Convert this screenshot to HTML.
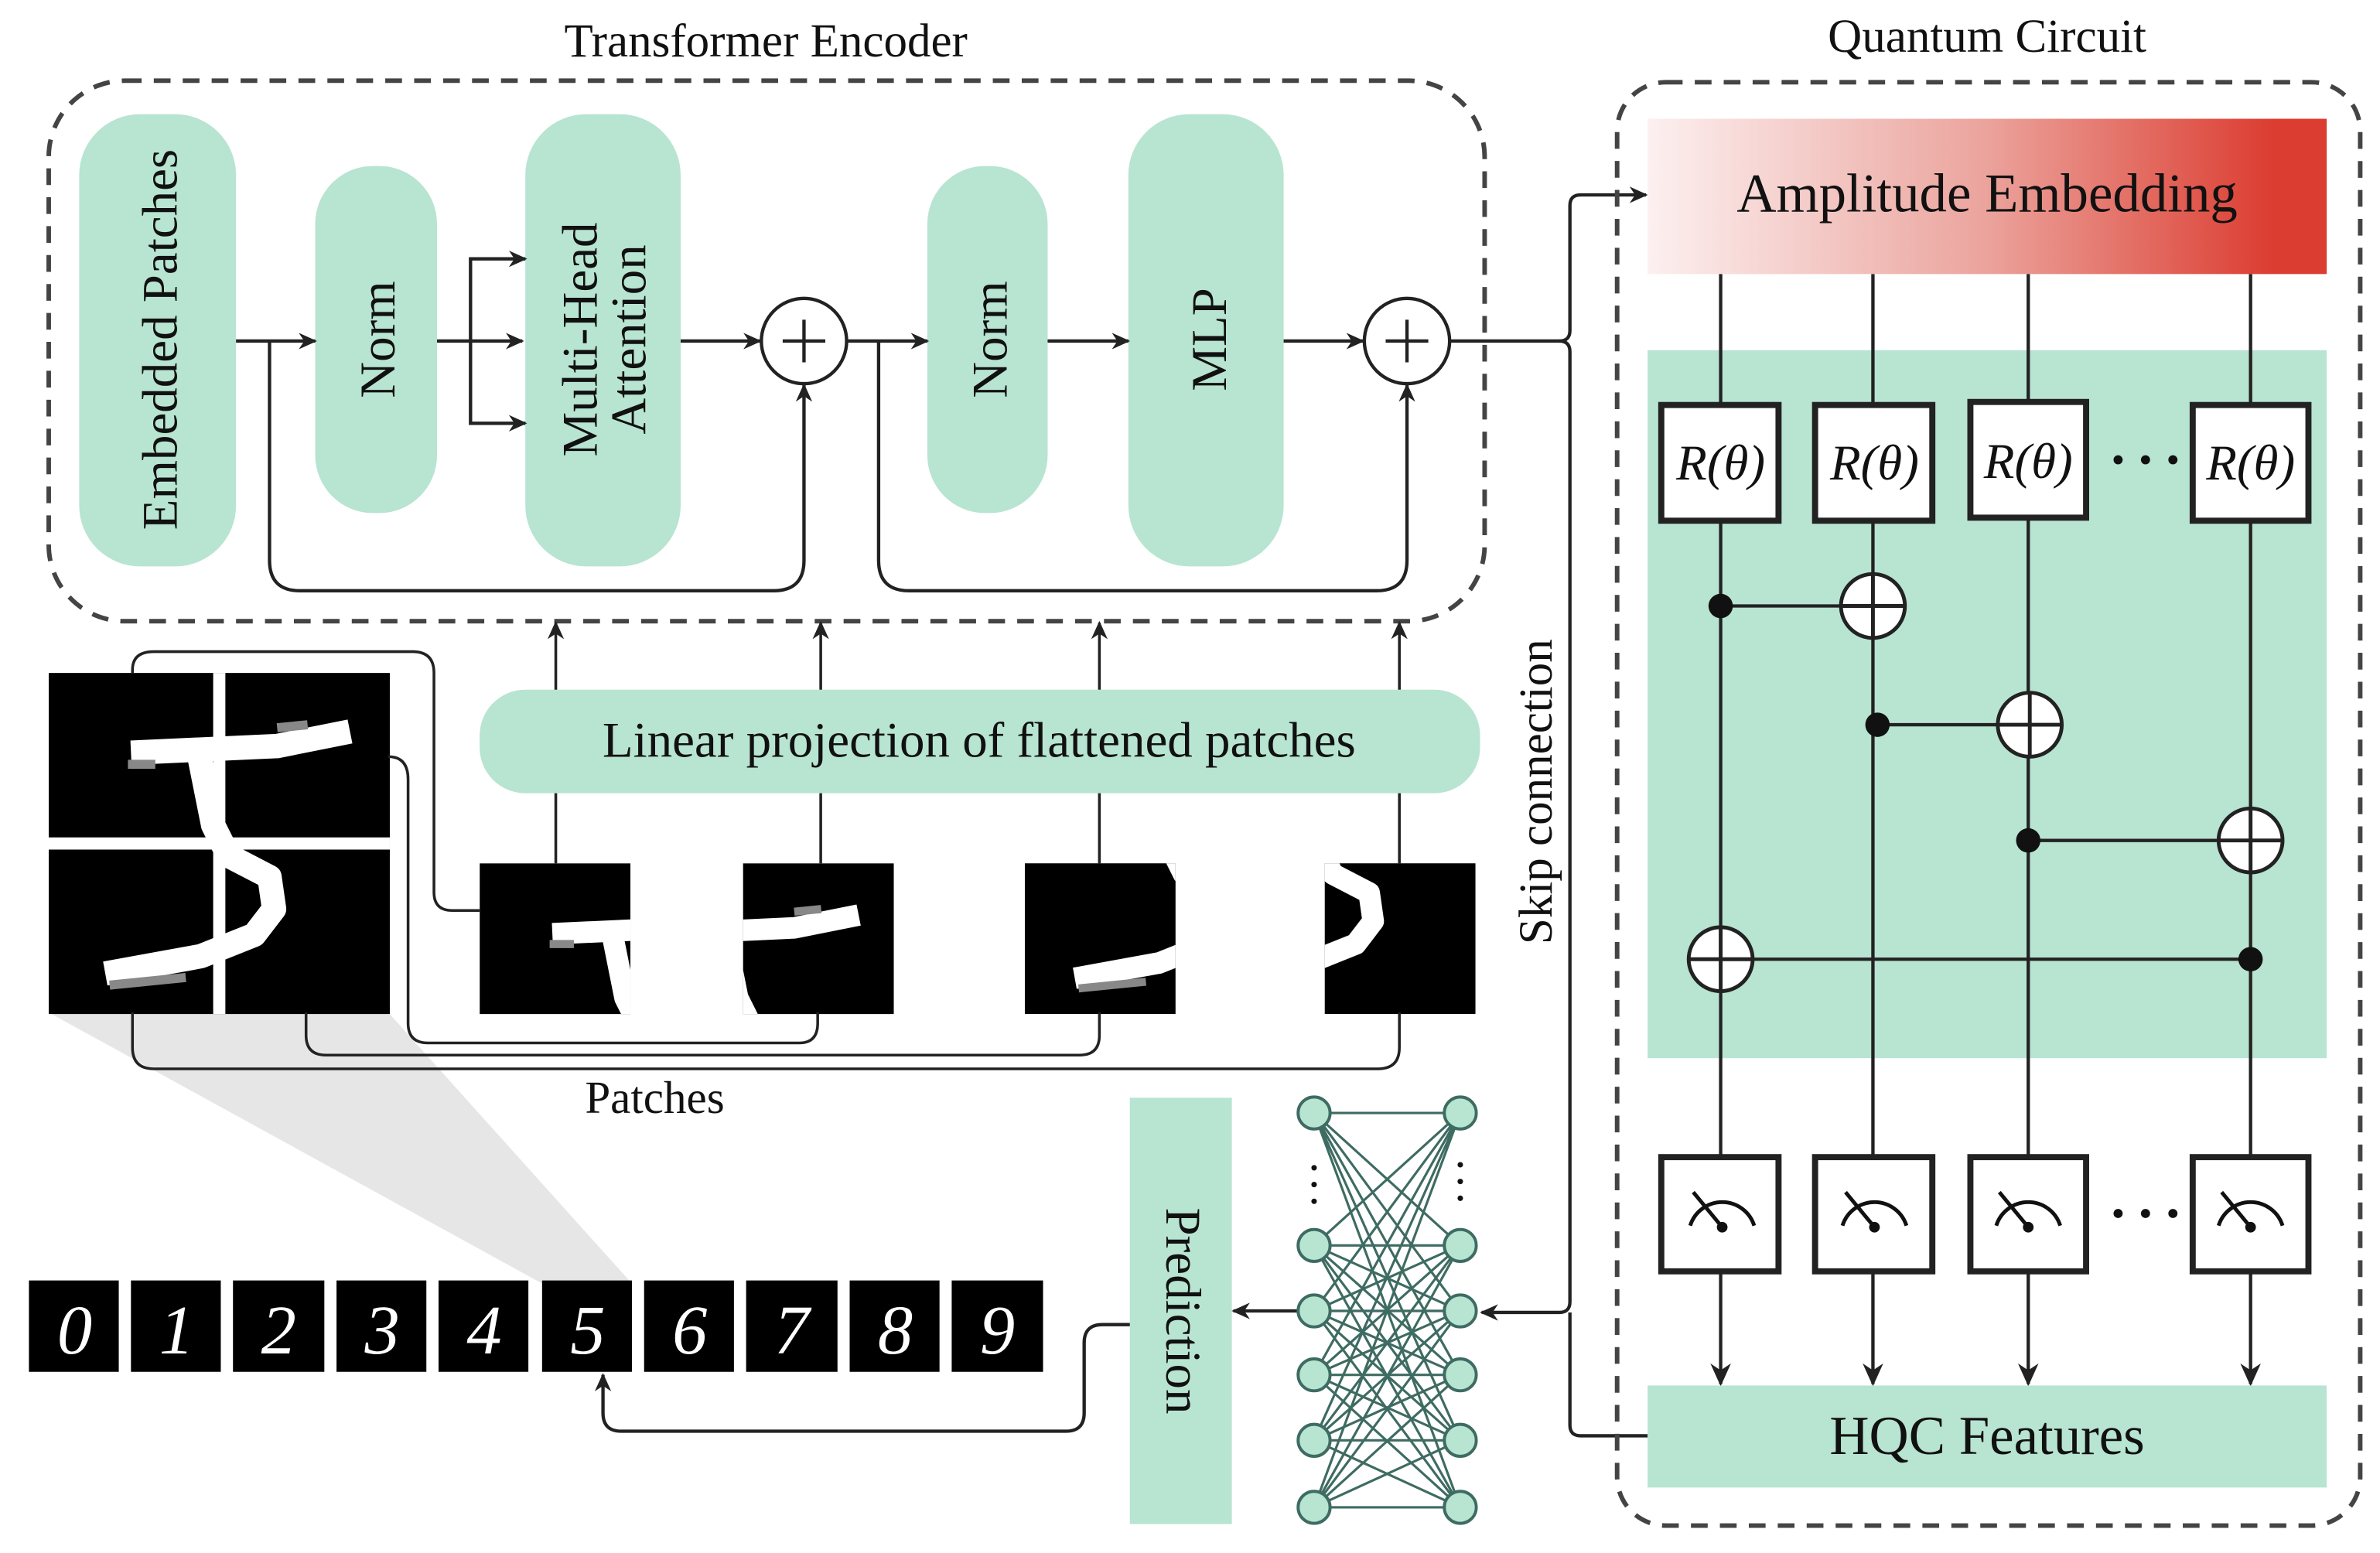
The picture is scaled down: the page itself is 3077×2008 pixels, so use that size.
<!DOCTYPE html>
<html><head><meta charset="utf-8"><style>
html,body{margin:0;padding:0;background:#fff;}
svg{display:block;}
text{font-family:"Liberation Serif",serif;fill:#111;}
</style></head><body>
<svg width="3077" height="2008" viewBox="0 0 1563 1020" preserveAspectRatio="none" xmlns="http://www.w3.org/2000/svg">
<defs>
<marker id="ar" viewBox="0 0 10 10" refX="9" refY="5" markerWidth="12" markerHeight="12" orient="auto" markerUnits="userSpaceOnUse">
<path d="M0,0.5 L10,5 L0,9.5 L3,5 Z" fill="#222"/></marker>
<marker id="ar2" viewBox="0 0 10 10" refX="9" refY="5" markerWidth="15" markerHeight="15" orient="auto" markerUnits="userSpaceOnUse">
<path d="M0,0.5 L10,5 L0,9.5 L3,5 Z" fill="#222"/></marker>
<linearGradient id="amp" x1="0" x2="1" y1="0" y2="0">
<stop offset="0" stop-color="#fcf0f0"/><stop offset="0.5" stop-color="#eba39c"/><stop offset="0.92" stop-color="#dc3d31"/><stop offset="1" stop-color="#dc3d31"/></linearGradient>
<g id="five">
<rect x="0" y="0" width="224" height="224" fill="#000"/>
<g fill="none" stroke="#fff" stroke-width="16" stroke-linejoin="round" stroke-linecap="square">
<path d="M62,52 L150,48 L190,40"/>
<path d="M100,60 L108,100 L118,120 L145,134 L148,155 L135,172 L100,186 L45,196"/>
</g>
<g fill="none" stroke="#888" stroke-width="6"><path d="M52,60 L70,60"/><path d="M40,205 L90,200"/><path d="M150,36 L170,34"/></g>
</g>
<clipPath id="pc"><rect x="0" y="0" width="99" height="99"/></clipPath>
</defs>

<!-- Transformer encoder -->
<text x="503" y="37" font-size="31" text-anchor="middle">Transformer Encoder</text>
<rect x="32" y="53" width="943" height="355" rx="50" fill="none" stroke="#444" stroke-width="3" stroke-dasharray="11,8"/>
<g fill="#b8e4d2">
<rect x="52" y="75" width="103" height="297" rx="40"/>
<rect x="207" y="109" width="80" height="228" rx="38"/>
<rect x="345" y="75" width="102" height="297" rx="40"/>
<rect x="609" y="109" width="79" height="228" rx="38"/>
<rect x="741" y="75" width="102" height="297" rx="40"/>
</g>
<g font-size="33" text-anchor="middle">
<text transform="translate(116,223) rotate(-90)">Embedded Patches</text>
<text transform="translate(259,223) rotate(-90)">Norm</text>
<text transform="translate(392,223) rotate(-90)">Multi-Head</text>
<text transform="translate(424,223) rotate(-90)">Attention</text>
<text transform="translate(661,223) rotate(-90)">Norm</text>
<text transform="translate(805,223) rotate(-90)">MLP</text>
</g>
<g fill="none" stroke="#222" stroke-width="2.2">
<path d="M155,224 H207" marker-end="url(#ar)"/>
<path d="M177,224 V368 Q177,388 197,388 H508 Q528,388 528,368 V253" marker-end="url(#ar)"/>
<path d="M287,224 H343" marker-end="url(#ar)"/>
<path d="M309,224 V170 H345" marker-end="url(#ar)"/>
<path d="M309,224 V278 H345" marker-end="url(#ar)"/>
<path d="M447,224 H499" marker-end="url(#ar)"/>
<path d="M557,224 H609" marker-end="url(#ar)"/>
<path d="M577,224 V368 Q577,388 597,388 H904 Q924,388 924,368 V253" marker-end="url(#ar)"/>
<path d="M688,224 H741" marker-end="url(#ar)"/>
<path d="M843,224 H895" marker-end="url(#ar)"/>
<ellipse cx="528" cy="224" rx="28" ry="28"/>
<ellipse cx="924" cy="224" rx="28" ry="28"/>
<path d="M514,224 H542 M528,210 V238 M910,224 H938 M924,210 V238"/>
<path d="M952,224 H1024 Q1031,224 1031,217 V135 Q1031,128 1038,128 H1081" marker-end="url(#ar)"/>
<path d="M1024,224 Q1031,224 1031,231 V855 Q1031,862 1024,862 H973" marker-end="url(#ar)"/>
<path d="M1082,943 H1038 Q1031,943 1031,936 V862"/>
</g>

<!-- Linear projection -->
<rect x="315" y="453" width="657" height="68" rx="30" fill="#b8e4d2"/>
<text x="643" y="497" font-size="33" text-anchor="middle">Linear projection of flattened patches</text>
<g fill="none" stroke="#222" stroke-width="1.8">
<path d="M365,453 V409" marker-end="url(#ar)"/>
<path d="M539,453 V409" marker-end="url(#ar)"/>
<path d="M722,453 V409" marker-end="url(#ar)"/>
<path d="M919,453 V409" marker-end="url(#ar)"/>
<path d="M365,521 V567 M539,521 V567 M722,521 V567 M919,521 V567"/>
</g>

<!-- gray funnel -->
<polygon points="32,665 255,665 415,843 356,843" fill="#e6e6e6"/>

<!-- big image -->
<use href="#five" transform="translate(32,442)"/>
<rect x="140" y="442" width="8" height="224" fill="#fff"/>
<rect x="32" y="550" width="224" height="8" fill="#fff"/>

<!-- patches -->
<g transform="translate(315,567)" clip-path="url(#pc)"><use href="#five" transform="scale(0.884)"/></g>
<g transform="translate(488,567)"><g clip-path="url(#pc)"><use href="#five" transform="scale(0.884) translate(-112,0)"/></g></g>
<g transform="translate(673,567)"><g clip-path="url(#pc)"><use href="#five" transform="scale(0.884) translate(0,-112)"/></g></g>
<g transform="translate(870,567)"><g clip-path="url(#pc)"><use href="#five" transform="scale(0.884) translate(-112,-112)"/></g></g>

<g fill="none" stroke="#222" stroke-width="1.8">
<path d="M87,442 V440 Q87,428 101,428 H271 Q285,428 285,442 V586 Q285,598 297,598 H315"/>
<path d="M255,497 Q268,497 268,512 V672 Q268,685 281,685 H525 Q537,685 537,672 V665"/>
<path d="M201,665 V680 Q201,693 214,693 H709 Q722,693 722,680 V665"/>
<path d="M87,665 V688 Q87,702 101,702 H905 Q919,702 919,688 V665"/>
</g>
<text x="430" y="731" font-size="30" text-anchor="middle">Patches</text>

<!-- digit row -->
<g fill="#000">
<rect x="19" y="841" width="59" height="60"/><rect x="86" y="841" width="59" height="60"/>
<rect x="153" y="841" width="60" height="60"/><rect x="221" y="841" width="59" height="60"/>
<rect x="288" y="841" width="59" height="60"/><rect x="356" y="841" width="59" height="60"/>
<rect x="423" y="841" width="59" height="60"/><rect x="490" y="841" width="60" height="60"/>
<rect x="558" y="841" width="59" height="60"/><rect x="625" y="841" width="60" height="60"/>
</g>
<g font-size="46" font-style="italic" text-anchor="middle">
<text x="49" y="889" style="fill:#fff">0</text><text x="116" y="889" style="fill:#fff">1</text>
<text x="183" y="889" style="fill:#fff">2</text><text x="251" y="889" style="fill:#fff">3</text>
<text x="318" y="889" style="fill:#fff">4</text><text x="386" y="889" style="fill:#fff">5</text>
<text x="453" y="889" style="fill:#fff">6</text><text x="520" y="889" style="fill:#fff">7</text>
<text x="588" y="889" style="fill:#fff">8</text><text x="655" y="889" style="fill:#fff">9</text>
</g>

<!-- Prediction -->
<rect x="742" y="721" width="67" height="280" fill="#b8e4d2"/>
<text transform="translate(766,861) rotate(90)" font-size="33" text-anchor="middle">Prediction</text>
<g fill="none" stroke="#222" stroke-width="2.2">
<path d="M742,870 H724 Q712,870 712,882 V928 Q712,940 700,940 H408 Q396,940 396,928 V903" marker-end="url(#ar)"/>
<path d="M852,861 H810" marker-end="url(#ar)"/>
</g>

<!-- NN -->
<g stroke="#3e6b62" stroke-width="1.6">
<path d="M863,731 L959,731 M863,731 L959,818 M863,731 L959,861 M863,731 L959,903 M863,731 L959,946 M863,731 L959,990
M863,818 L959,731 M863,818 L959,818 M863,818 L959,861 M863,818 L959,903 M863,818 L959,946 M863,818 L959,990
M863,861 L959,731 M863,861 L959,818 M863,861 L959,861 M863,861 L959,903 M863,861 L959,946 M863,861 L959,990
M863,903 L959,731 M863,903 L959,818 M863,903 L959,861 M863,903 L959,903 M863,903 L959,946 M863,903 L959,990
M863,946 L959,731 M863,946 L959,818 M863,946 L959,861 M863,946 L959,903 M863,946 L959,946 M863,946 L959,990
M863,990 L959,731 M863,990 L959,818 M863,990 L959,861 M863,990 L959,903 M863,990 L959,946 M863,990 L959,990" fill="none"/>
<g fill="#b8e4d2" stroke-width="2">
<circle cx="863" cy="731" r="10.5"/><circle cx="863" cy="818" r="10.5"/><circle cx="863" cy="861" r="10.5"/>
<circle cx="863" cy="903" r="10.5"/><circle cx="863" cy="946" r="10.5"/><circle cx="863" cy="990" r="10.5"/>
<circle cx="959" cy="731" r="10.5"/><circle cx="959" cy="818" r="10.5"/><circle cx="959" cy="861" r="10.5"/>
<circle cx="959" cy="903" r="10.5"/><circle cx="959" cy="946" r="10.5"/><circle cx="959" cy="990" r="10.5"/>
</g>
</g>
<g fill="#111">
<circle cx="863" cy="767" r="1.8"/><circle cx="863" cy="778" r="1.8"/><circle cx="863" cy="789" r="1.8"/>
<circle cx="959" cy="765" r="1.8"/><circle cx="959" cy="776" r="1.8"/><circle cx="959" cy="787" r="1.8"/>
</g>

<!-- Skip connection -->
<text transform="translate(1019,520) rotate(-90)" font-size="31" text-anchor="middle">Skip connection</text>

<!-- Quantum -->
<text x="1305" y="34" font-size="31" text-anchor="middle">Quantum Circuit</text>
<rect x="1062" y="54" width="488" height="948" rx="32" fill="none" stroke="#444" stroke-width="3" stroke-dasharray="11,8"/>
<rect x="1082" y="78" width="446" height="102" fill="url(#amp)"/>
<text x="1305" y="139" font-size="36" text-anchor="middle">Amplitude Embedding</text>
<rect x="1082" y="230" width="446" height="465" fill="#b8e4d2"/>
<g stroke="#222" stroke-width="2.2" fill="none">
<path d="M1130,180 V760 M1230,180 V760 M1332,180 V760 M1478,180 V760"/>
<path d="M1130,835 V909" marker-end="url(#ar2)"/>
<path d="M1230,835 V909" marker-end="url(#ar2)"/>
<path d="M1332,835 V909" marker-end="url(#ar2)"/>
<path d="M1478,835 V909" marker-end="url(#ar2)"/>
<path d="M1130,398 H1230 M1233,476 H1333 M1332,552 H1478 M1130,630 H1478"/>
</g>
<g fill="#fff" stroke="#222" stroke-width="4">
<rect x="1091" y="266" width="77" height="76"/><rect x="1192" y="266" width="77" height="76"/>
<rect x="1294" y="264" width="76" height="76"/><rect x="1440" y="266" width="76" height="76"/>
</g>
<g font-size="33" font-style="italic" text-anchor="middle">
<text x="1130" y="315">R(θ)</text><text x="1231" y="315">R(θ)</text>
<text x="1332" y="314">R(θ)</text><text x="1478" y="315">R(θ)</text>
</g>
<g fill="#111"><circle cx="1391" cy="302" r="3"/><circle cx="1409" cy="302" r="3"/><circle cx="1427" cy="302" r="3"/>
<circle cx="1391" cy="797" r="3"/><circle cx="1409" cy="797" r="3"/><circle cx="1427" cy="797" r="3"/>
<circle cx="1130" cy="398" r="8"/><circle cx="1233" cy="476" r="8"/><circle cx="1332" cy="552" r="8"/><circle cx="1478" cy="630" r="8"/></g>
<g fill="#fff" stroke="#222" stroke-width="2.5">
<circle cx="1230" cy="398" r="21"/><circle cx="1333" cy="476" r="21"/><circle cx="1478" cy="552" r="21"/><circle cx="1130" cy="630" r="21"/>
</g>
<g stroke="#222" stroke-width="2.5"><path d="M1209,398 H1251 M1230,377 V419 M1312,476 H1354 M1333,455 V497 M1457,552 H1499 M1478,531 V573 M1109,630 H1151 M1130,609 V651"/></g>
<g fill="#fff" stroke="#222" stroke-width="4">
<rect x="1091" y="760" width="77" height="75"/><rect x="1192" y="760" width="77" height="75"/>
<rect x="1294" y="760" width="76" height="75"/><rect x="1440" y="760" width="76" height="75"/>
</g>
<g fill="none" stroke="#111" stroke-width="2.5">
<path d="M1110,805 A22,22 0 0 1 1152,805 M1112,783 L1131,806"/>
<path d="M1210,805 A22,22 0 0 1 1252,805 M1212,783 L1231,806"/>
<path d="M1311,805 A22,22 0 0 1 1353,805 M1313,783 L1332,806"/>
<path d="M1457,805 A22,22 0 0 1 1499,805 M1459,783 L1478,806"/>
</g>
<g fill="#111"><circle cx="1131" cy="806" r="3.5"/><circle cx="1231" cy="806" r="3.5"/><circle cx="1332" cy="806" r="3.5"/><circle cx="1478" cy="806" r="3.5"/></g>
<rect x="1082" y="910" width="446" height="67" fill="#b8e4d2"/>
<text x="1305" y="955" font-size="36" text-anchor="middle">HQC Features</text>
</svg>
</body></html>
